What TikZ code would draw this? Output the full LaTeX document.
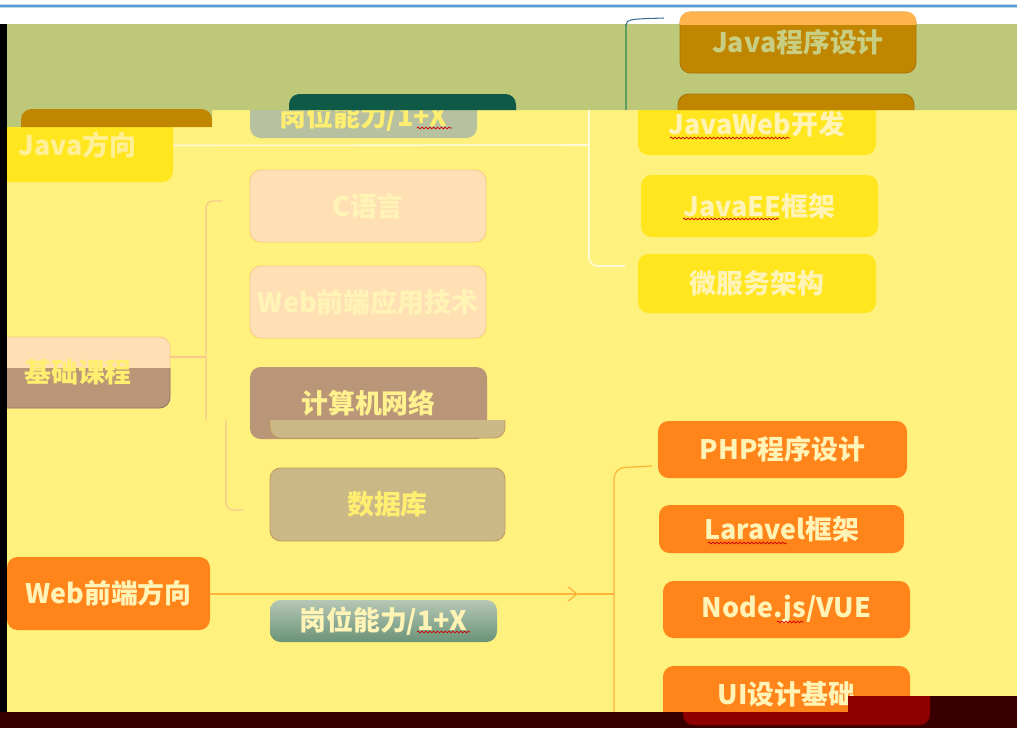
\documentclass[tikz,border=0pt]{standalone}
\usepackage{fontspec}
\newfontfamily\cjk{Noto Sans CJK SC}
\usetikzlibrary{calc,arrows.meta,decorations.pathmorphing}
\definecolor{PaperYellow}{HTML}{FFF17D}
\definecolor{GreenBand}{HTML}{BDC879}
\definecolor{JYellow}{HTML}{FFE61E}
\definecolor{Gold}{HTML}{C08600}
\definecolor{GoldEdge}{HTML}{A87400}
\definecolor{TopOrange}{HTML}{FFB44F}
\definecolor{Teal}{HTML}{0E5A46}
\definecolor{GreyGreen}{HTML}{B7C1A0}
\definecolor{Peach}{HTML}{FFE0B5}
\definecolor{PeachEdge}{HTML}{F8C890}
\definecolor{Brown}{HTML}{B99677}
\definecolor{Khaki}{HTML}{CAB987}
\definecolor{KhakiEdge}{HTML}{C29A60}
\definecolor{WebOrange}{HTML}{FF841A}
\definecolor{PaleText}{HTML}{FFF3B5}
\definecolor{LabelText}{HTML}{FFEE70}
\definecolor{OliveText}{HTML}{C9CF82}
\definecolor{DarkBand}{HTML}{380000}
\definecolor{DarkRed}{HTML}{8E0000}
\definecolor{BlueLine}{HTML}{5B9BD5}

\tikzset{
  box/.style={rounded corners=6pt, inner sep=0pt,
    font=\cjk\bfseries\fontsize{15.3}{18}\selectfont},
  sz/.style 2 args={minimum width=#1*0.02cm, minimum height=#2*0.02cm},
  javabox/.style={box, fill=JYellow, text=PaleText},
  basebox/.style={box, fill=Peach, draw=PeachEdge, line width=0.5pt, text=PaleText},
  webbox/.style={box, fill=WebOrange, text=PaleText},
  postbox/.style={box, text=LabelText},
  javaline/.style={draw=white!70!PaperYellow, line width=0.9pt},
  baseline/.style={draw=PeachEdge, line width=0.7pt},
  webline/.style={draw=orange!55!PaperYellow, line width=0.7pt},
  squiggle/.style={draw=red!80!black, line width=0.4pt,
    decorate, decoration={snake, amplitude=0.5pt, segment length=2.2pt}}
}

\begin{document}
\begin{tikzpicture}[x=0.02cm,y=-0.02cm]
\useasboundingbox (0,0) rectangle (1017,728);
\fill[PaperYellow] (0,0) rectangle (1017,728);

% Java branch
\node[javabox, sz={191}{73}, text=PaleText!80!JYellow] (java) at (77.5,145.5) {Java方向};
\node[postbox, sz={227}{42}, fill=GreyGreen] (post1) at (363.5,117) {岗位能力/1+X};
\node[javabox, sz={238}{61}] (jweb) at (757,124.5) {JavaWeb开发};
\node[javabox, sz={237}{62}] (jee) at (759.5,206) {JavaEE框架};
\node[javabox, sz={238}{59}] (jms) at (757,283.5) {微服务架构};
\coordinate (jbr) at (589,145);
\draw[javaline] (java.east) -- (jbr);
\draw[javaline, rounded corners=5pt] (589,110) -- (589,266) -- (625,266);

% base courses
\node[basebox, sz={184}{71}, text=LabelText] (base) at (78,372.5) {基础课程};
\node[basebox, sz={236}{72}] (clang) at (368,206) {C语言};
\node[basebox, sz={236}{72}] (webfe) at (368,302) {Web前端应用技术};
\node[box, sz={237}{72}, fill=Brown, text=LabelText!80!white] (net) at (368.5,403) {计算机网络};
\node[box, sz={235}{73}, fill=Khaki, draw=KhakiEdge, line width=0.5pt, text=LabelText] (db) at (387.5,504.5) {数据库};
\coordinate (kbr) at (206,357);
\draw[baseline] (base.east |- kbr) -- (kbr);
\draw[baseline, rounded corners=4pt] (222,201) -- (206,201) -- (206,420);
\draw[baseline, rounded corners=4pt] (226,420) -- (226,510) -- (243,510);

% Web branch
\node[webbox, sz={203}{73}] (web) at (108.5,593.5) {Web前端方向};
\node[postbox, sz={227}{42}, top color=GreyGreen!70!Teal!60, bottom color=Teal!45!GreyGreen,
  text=PaleText] (post2) at (383.5,621) {岗位能力/1+X};
\node[webbox, sz={249}{57}] (php) at (782.5,449.5) {PHP程序设计};
\node[webbox, sz={245}{48}] (lar) at (781.5,529) {Laravel框架};
\node[webbox, sz={247}{57}] (nodejs) at (786.5,609.5) {Node.js/VUE};
\node[webbox, sz={247}{57}] (ui) at (786.5,694.5) {UI设计基础};
\coordinate (wbr) at (614,594);
\draw[webline, -{Straight Barb[length=5pt,width=8pt]}] (web.east |- wbr) -- (578,594);
\draw[webline] (578,594) -- (wbr);
\draw[webline, rounded corners=6pt] (652,466) -- (614,468) -- (614,712);

% spelling marks
\draw[squiggle] (670,138) -- (790,138);
\draw[squiggle] (683,219) -- (779,219);
\draw[squiggle] (708,543) -- (787,543);
\draw[squiggle] (777,622) -- (803,622);
\draw[squiggle] (417,632) -- (470,632);
\draw[squiggle] (417,128) -- (452,128);

% shifted strips
\begin{scope}
  \clip (7,368) rectangle (1017,420);
  \node[box, sz={184}{71}, fill=Brown, draw=Brown!80!black, line width=0.5pt,
    text=LabelText] at (base) {基础课程};
\end{scope}
\begin{scope}
  \clip (7,420) rectangle (1017,712);
  \fill[Khaki, draw=KhakiEdge, line width=0.5pt, rounded corners=6pt] (270,366) rectangle (505,438);
\end{scope}

% top strip
\fill[white] (0,0) rectangle (1017,24);
\draw[BlueLine!40!white, line width=2pt] (0,6) -- (1017,6);
\draw[BlueLine, line width=0.8pt] (0,6) -- (1017,6);
\begin{scope}
  \clip (7,24) rectangle (1017,110) (7,110) rectangle (212,127);
  \fill[GreenBand] (7,24) rectangle (1017,127);
  \fill[Gold, rounded corners=6pt] (21,109) rectangle (212,182);
  \fill[Teal, rounded corners=6pt] (289,94) rectangle (516,136);
  \fill[Gold, draw=GoldEdge, line width=0.5pt, rounded corners=6pt] (678,94) rectangle (914,155);
  \draw[green!25!gray, line width=0.8pt] (626,24) -- (626,110);
\end{scope}
\node[box, sz={236}{61}, fill=Gold, draw=GoldEdge, line width=0.5pt, text=OliveText] (jprog) at (798,42.5) {Java程序设计};
\begin{scope}
  \clip (0,9) rectangle (1017,24);
  \fill[TopOrange, rounded corners=6pt] (jprog.south west) rectangle (jprog.north east);
\end{scope}
\draw[BlueLine!70!black, line width=0.6pt] (626,25) .. controls (626,19) and (632,19) .. (664,18);

% page edges
\fill[black] (0,24) rectangle (7,712);
\begin{scope}
  \clip (0,712) rectangle (848,728) (848,696) rectangle (1017,728);
  \fill[DarkBand] (0,696) rectangle (1017,728);
  \fill[DarkRed, rounded corners=6pt] (683,650) rectangle (930,725);
\end{scope}
\end{tikzpicture}
\end{document}
